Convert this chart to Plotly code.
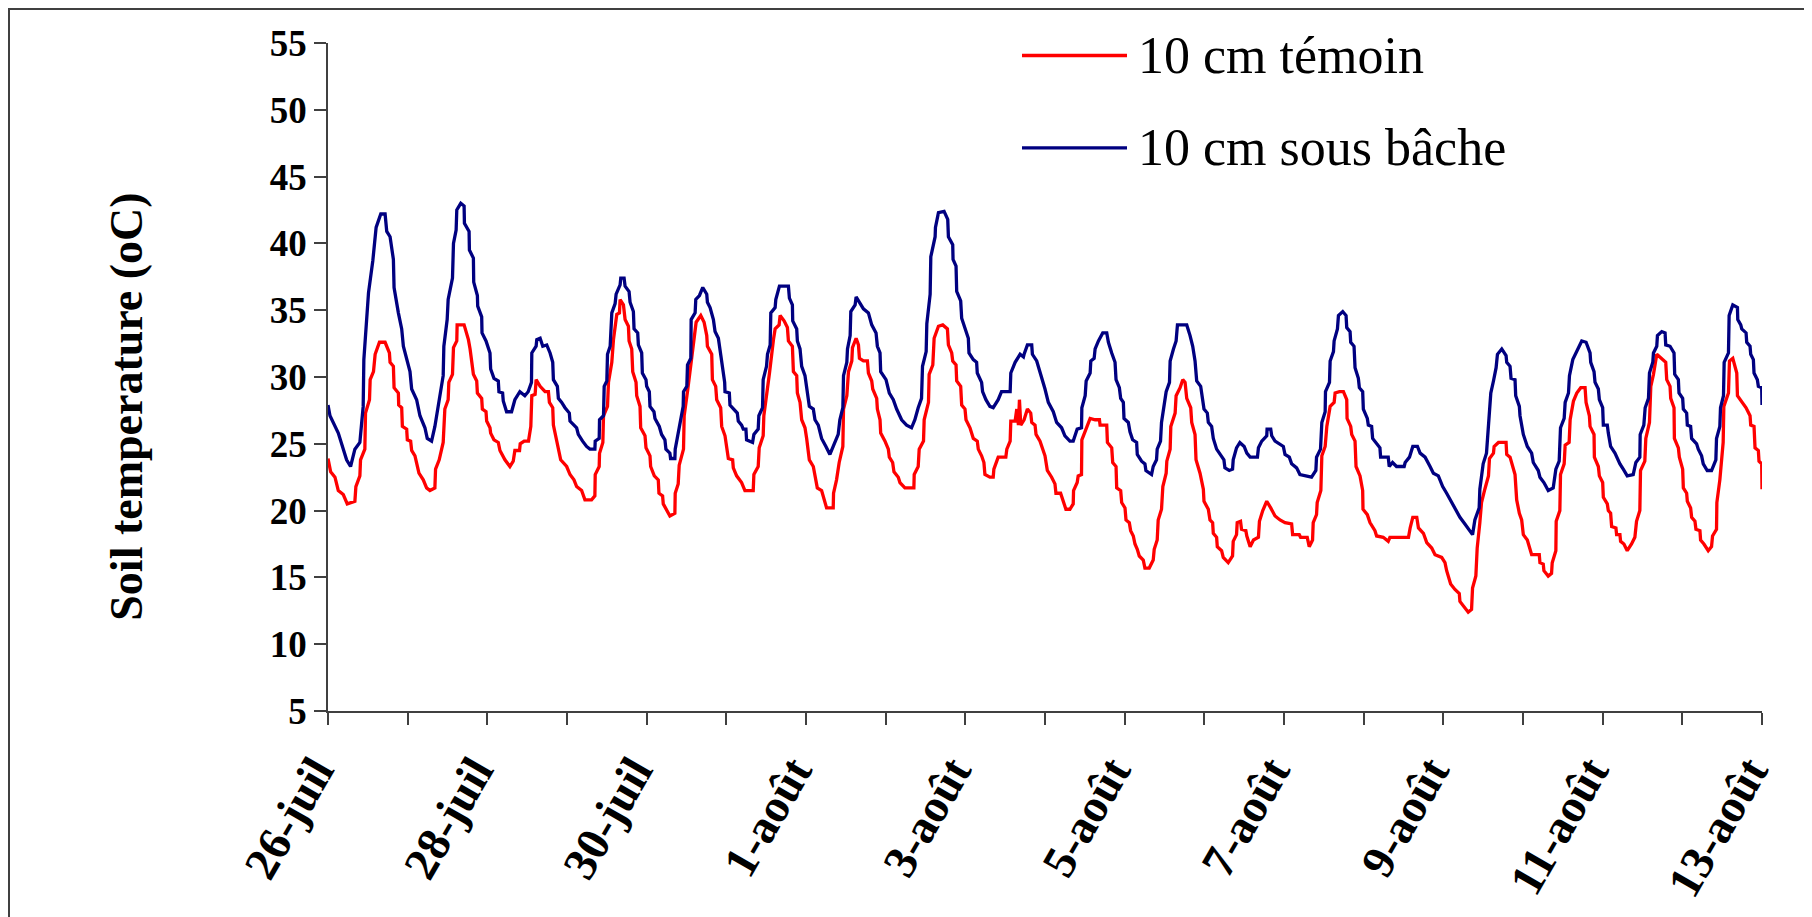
import plotly.graph_objects as go

# Hours since 26-juil 00:00 and soil temperature (°C)
blue_hours = [0, 0.6, 3.1, 5.6, 6.8, 8.1, 9.6, 10.6, 10.8, 12.2, 13.5, 14.5, 15.9, 17.2, 17.7, 18.7, 19.7, 19.9, 21.2, 22.2, 22.7, 24.7, 25.2, 26.7, 27.7, 29.2, 29.9, 31.2, 32.2, 33.5, 34.7, 34.9, 35.9, 36.2, 37.5, 37.8, 38.6, 38.8, 40.0, 41.0, 41.1, 42.5, 42.6, 43.8, 43.9, 45.0, 45.1, 46.3, 46.4, 47.6, 48.8, 49.0, 50.0, 51.3, 51.5, 52.6, 52.8, 53.8, 55.3, 56.3, 57.8, 59.3, 60.3, 61.3, 61.4, 62.7, 62.9, 63.9, 64.7, 65.9, 66.9, 67.7, 67.9, 69.1, 69.4,
              70.4, 71.4, 72.7, 72.9, 74.9, 75.4, 76.7, 77.9, 78.9, 80.4, 80.5, 81.7, 81.8, 83.0, 83.2, 84.0, 84.2, 85.0, 85.5, 86.5, 86.8, 88.0, 88.2, 89.2, 89.5, 90.7, 91.0, 92.0, 92.2, 93.3, 93.5, 94.5, 94.7, 95.8, 96.0, 96.8, 97.0, 98.2, 98.5, 99.8, 100.5, 101.5, 101.8, 103.0, 103.2, 104.5, 104.6, 105.8, 107.0, 107.1, 108.1, 108.3, 109.3, 109.4, 110.6, 110.8, 111.9, 112.9, 114.1, 114.3, 115.1, 116.1, 116.6, 117.6, 118.1, 118.6, 119.1, 119.5, 119.6, 120.9, 121.1, 122.1, 123.3, 123.6, 124.6, 125.1, 125.9, 126.1, 127.9, 128.3, 129.6, 129.8, 130.9, 131.1, 132.1, 132.4, 133.2, 133.4, 134.7, 134.9, 136.0, 138.7, 139.0, 139.9, 140.0, 141.2, 141.4, 142.2,
              142.7, 143.7, 144.2, 145.0, 146.2, 146.7, 147.7, 148.7, 150.0, 151.2, 152.2, 153.7, 154.2, 155.1, 155.3, 156.3, 156.5, 157.3, 157.5, 158.8, 159.1, 160.1, 161.3, 162.8, 163.8, 165.1, 165.5, 166.3, 166.5, 168.1, 169.1, 170.3, 171.3, 172.8, 174.3, 175.8, 176.8, 177.8, 178.8, 179.1, 180.2, 180.4, 181.4, 181.6, 182.9, 183.0, 183.9, 185.6, 186.7, 186.9, 188.2, 188.3, 189.2, 189.4, 190.6, 190.9, 191.9, 192.9, 193.1, 194.4, 195.4, 195.6, 196.9, 197.2, 198.2, 199.4, 200.4, 201.9, 202.9, 205.5, 205.7, 207.0, 208.5, 209.5, 209.7, 210.7, 212.0, 212.2, 213.5, 214.5,
              215.0, 216.0, 217.0, 218.5, 219.5, 221.0, 222.0, 223.5, 224.5, 225.7, 227.0, 227.1, 228.1, 228.4, 229.6, 229.8, 230.8, 231.1, 232.1, 233.4, 234.6, 235.1, 236.1, 237.1, 237.4, 238.4, 238.8, 239.6, 239.8, 241.1, 241.6, 242.4, 243.6, 243.8, 245.1, 246.1, 246.4, 248.1, 248.6, 249.6, 249.8, 250.8, 251.1, 252.1, 252.5, 253.5, 253.7, 254.7, 255.5, 255.9, 258.7, 259.7, 260.5, 261.2, 261.7, 262.9, 263.5, 263.9, 264.9, 265.2, 266.2, 266.7, 267.7, 268.9, 269.9, 270.2, 271.5, 272.5, 272.7, 273.7, 274.7, 276.0, 276.8, 277.8, 280.0, 280.3, 281.3, 282.8, 282.9, 284.0, 284.3, 285.3, 286.6,
              287.8, 288.3, 289.6, 290.3, 291.8, 292.8, 296.3, 297.6, 297.8, 299.0, 299.4, 300.4, 300.5, 301.7, 301.9, 302.9, 303.1, 304.1, 304.4, 305.7, 306.7, 306.9, 307.9, 308.1, 309.1, 309.4, 310.4, 310.7, 311.7, 311.9, 313.1, 313.4, 314.4, 314.7, 316.9, 317.1, 319.4, 319.7, 320.7, 321.9, 324.2, 324.5, 325.8, 326.8, 328.2, 329.0, 330.5, 332.0, 333.0, 334.5, 335.8, 337.0, 338.5, 339.8, 341.0, 342.5, 344.0, 344.8, 345.5, 346.8, 347.0, 348.0, 349.0, 349.6, 350.3, 351.1, 351.9, 352.3, 353.6, 354.9, 355.1, 356.1, 356.4, 357.6, 357.8, 358.9, 359.1,
              360.1, 361.3, 362.6, 363.1, 364.6, 365.1, 366.3, 367.6, 369.1, 369.9, 370.9, 371.3, 372.4, 372.7, 373.7, 374.0, 375.0, 376.0, 377.2, 377.7, 379.0, 380.2, 380.4, 381.4, 381.7, 382.7, 383.0, 384.0, 384.2, 385.4, 385.7, 386.4, 387.7, 388.2, 389.2, 390.2, 391.4, 393.2, 394.0, 395.2, 395.3, 396.4, 396.8, 397.8, 398.1, 399.1, 399.3, 400.3, 400.5, 401.8, 402.8, 403.0, 404.3, 405.5, 405.7, 406.8, 407.0, 408.1, 408.3, 409.3, 409.5, 410.5, 410.8, 412.3, 412.8, 413.8, 414.3, 415.5, 416.8, 418.1, 418.3, 419.3, 419.5, 420.4, 420.6, 421.9, 422.1, 423.2, 424.6, 424.7, 425.6, 425.9, 427.2, 427.4, 428.4, 428.6, 429.4, 429.6, 430.6, 430.9, 431.9, 432.0]
blue_vals = [27.9, 27.1, 25.8, 23.8, 23.3, 24.6, 25.1, 27.8, 31.3, 36.3, 38.7, 41.2, 42.2, 42.2, 40.9, 40.5, 38.8, 36.7, 34.8, 33.6, 32.3, 30.4, 29.1, 28.3, 27.1, 26.2, 25.4, 25.2, 26.3, 28.3, 30.1, 32.3, 34.3, 35.8, 37.4, 40.0, 41.0, 42.5, 43.0, 42.8, 41.5, 40.9, 39.5, 38.9, 37.1, 36.1, 35.3, 34.5, 33.3, 32.7, 31.8, 30.6, 29.9, 29.7, 28.9, 28.8, 28.2, 27.4, 27.4, 28.3, 28.9, 28.6, 28.9, 29.6, 31.8, 32.3, 32.8, 32.9, 32.3, 32.4, 31.8, 31.1, 29.8, 29.3, 28.4,
             28.1, 27.7, 27.3, 26.7, 26.2, 25.7, 25.2, 24.8, 24.6, 24.6, 25.2, 25.4, 26.8, 27.1, 29.3, 29.7, 31.7, 32.3, 34.8, 35.5, 36.2, 36.9, 37.4, 37.4, 36.8, 36.4, 35.6, 34.9, 33.6, 33.3, 32.4, 31.8, 30.3, 29.8, 29.3, 28.9, 27.8, 27.4, 26.9, 26.3, 25.7, 25.3, 24.6, 24.3, 23.9, 23.9, 24.6, 26.1, 27.8, 28.9, 29.3, 30.9, 31.4, 34.3, 34.8, 35.8, 36.1, 36.7, 36.2, 35.6, 35.2, 34.3, 33.4, 32.9, 32.1, 31.1, 30.1, 29.6, 28.9, 28.8, 27.9, 27.6, 27.3, 26.7, 26.4, 26.1, 26.1, 25.3, 25.1, 25.7, 26.1, 27.1, 27.7, 29.8, 30.8, 31.7, 32.4, 34.8, 35.2, 35.8, 36.8, 36.8, 35.9, 35.4, 34.2, 33.6, 32.7, 32.1,
             30.8, 30.1, 29.1, 27.8, 27.6, 26.8, 26.4, 25.4, 24.8, 24.2, 24.8, 25.7, 26.8, 27.7, 30.1, 31.1, 32.1, 33.1, 34.9, 35.4, 36.0, 35.6, 35.1, 34.8, 33.9, 33.3, 32.3, 31.8, 30.4, 29.8, 28.8, 28.3, 27.6, 26.8, 26.4, 26.2, 26.8, 27.7, 28.4, 30.8, 31.9, 34.0, 36.2, 39.0, 40.5, 41.2, 42.3, 42.4, 41.8, 40.5, 39.9, 38.8, 38.3, 36.4, 35.7, 34.4, 33.6, 32.9, 31.8, 31.3, 31.1, 30.3, 29.6, 28.9, 28.3, 27.8, 27.7, 28.3, 28.9, 28.9, 30.3, 31.1, 31.7, 31.5, 31.7, 32.4, 32.4, 31.7, 31.2, 30.4,
             29.9, 29.1, 28.1, 27.4, 26.6, 26.2, 25.6, 25.2, 25.2, 26.1, 26.2, 27.7, 28.6, 29.7, 30.3, 31.2, 31.4, 32.1, 32.7, 33.3, 33.3, 32.6, 31.8, 31.1, 29.8, 29.2, 28.4, 28.1, 26.9, 26.6, 25.9, 25.3, 25.1, 24.2, 23.7, 23.5, 23.0, 22.7, 23.3, 23.8, 24.6, 25.2, 26.6, 28.1, 28.9, 29.6, 31.2, 32.1, 32.7, 33.9, 33.9, 33.1, 32.3, 31.2, 29.7, 29.3, 28.3, 27.6, 27.3, 26.6, 26.3, 25.4, 24.6, 24.2, 23.8, 23.2, 23.0, 23.1, 23.8, 24.7, 25.1, 24.8, 24.3, 24.0, 24.0, 24.7, 25.2, 25.6, 26.1, 26.1, 25.6, 25.2, 25.0,
             24.8, 24.2, 24.0, 23.5, 23.2, 22.7, 22.5, 23.0, 24.0, 24.6, 26.6, 27.4, 28.9, 29.6, 31.2, 31.9, 32.7, 33.6, 34.6, 34.9, 34.6, 33.7, 33.4, 32.6, 32.3, 30.7, 29.9, 29.2, 28.9, 27.6, 26.9, 26.4, 26.3, 25.4, 24.7, 24.0, 24.0, 23.3, 23.6, 23.3, 23.3, 23.6, 24.0, 24.8, 24.8, 24.3, 24.0, 23.3, 22.8, 22.6, 21.8, 21.3, 20.6, 20.1, 19.5, 19.0, 18.5, 18.2, 19.3, 20.2, 21.6, 23.5, 24.3, 26.3, 28.8, 29.7, 30.7, 31.7, 32.1, 31.6, 31.1, 30.8, 29.9, 29.8, 28.6, 27.8, 27.1,
             25.7, 24.8, 24.3, 23.6, 23.0, 22.5, 22.1, 21.5, 21.7, 23.1, 23.7, 26.2, 26.9, 28.1, 28.8, 30.1, 31.3, 31.8, 32.4, 32.7, 32.6, 31.8, 31.1, 30.4, 29.6, 29.1, 28.3, 27.7, 26.4, 26.4, 25.8, 24.8, 24.3, 24.0, 23.5, 23.1, 22.6, 22.7, 23.6, 24.0, 25.7, 26.4, 27.7, 28.4, 30.3, 31.1, 31.8, 32.3, 33.1, 33.4, 33.3, 32.4, 32.3, 31.8, 30.2, 29.8, 28.8, 28.4, 27.6, 27.3, 26.4, 26.3, 25.4, 25.0, 24.6, 24.1, 23.5, 23.0, 23.0, 23.8, 25.4, 26.3, 27.7, 28.6, 31.1, 31.8, 34.6, 35.4, 35.2, 34.3, 33.9, 33.6, 33.3, 32.6, 32.3, 31.7, 31.3, 30.3, 29.8, 29.3, 29.2, 27.9]

red_hours = [0, 0.8, 2.1, 3.1, 4.6, 5.8, 8.1, 8.4, 9.6, 9.8, 11.1, 11.3, 12.5, 12.7, 13.7, 14.2, 15.5, 17.2, 18.5, 18.7, 19.7, 19.9, 21.2, 21.3, 22.2, 22.4, 23.7, 23.9, 24.9, 25.2, 26.2, 27.4, 28.7, 29.7, 30.7, 32.2, 32.4, 33.5, 34.7, 35.2, 36.2, 36.4, 37.5, 37.8, 38.8, 38.9, 41.0, 42.3, 42.8, 43.8, 44.8, 45.0, 46.3, 46.5, 47.6, 47.8, 48.8, 49.0, 50.0, 51.3, 51.8, 53.3, 54.8, 55.8, 56.3, 57.7, 57.9, 59.1, 60.4, 61.1, 61.4, 62.4, 62.7, 63.9, 65.4, 66.4, 66.7, 67.7, 67.9, 69.1,
             70.1, 71.9, 72.9, 74.1, 74.9, 76.4, 77.4, 79.4, 80.4, 80.5, 81.7, 81.8, 82.8, 83.0, 84.2, 84.5, 85.5, 86.0, 87.0, 87.8, 88.0, 89.0, 89.5, 90.5, 90.7, 91.5, 91.8, 92.8, 93.0, 94.0, 94.2, 95.5, 95.8, 97.0, 97.2, 98.3, 99.5, 99.7, 100.8, 101.0, 102.0, 103.0, 104.5, 104.6, 105.5, 105.8, 107.1, 107.3, 108.4, 109.3, 109.6, 110.6, 110.9, 112.3, 113.3, 114.1, 114.3, 115.6, 115.8, 116.8, 117.1, 118.3, 118.6, 119.6, 120.1, 120.6, 121.9, 122.1, 123.1, 124.6, 125.6, 128.1, 128.3, 129.6, 129.9, 131.1, 131.3, 132.7, 133.0, 134.2, 134.7, 135.9, 136.2, 137.4, 138.4, 138.7, 139.9, 140.2, 141.2, 141.4, 142.2,
             142.7, 143.7, 144.2, 145.0, 146.2, 146.7, 147.4, 148.7, 149.2, 150.2, 152.2, 152.3, 153.2, 154.0, 155.1, 155.3, 156.3, 156.8, 157.8, 158.0, 159.1, 159.8, 160.1, 161.3, 162.5, 162.8, 163.8, 164.1, 165.3, 165.5, 166.3, 166.5, 167.8, 168.8, 169.1, 170.1, 170.5, 171.8, 172.3, 173.8, 176.5, 176.6, 177.8, 178.1, 179.4, 179.6, 180.9, 181.1, 182.2, 182.6, 183.9, 185.2, 186.6, 186.9, 187.9, 188.2, 189.2, 189.4, 190.6, 190.9, 191.9, 192.2, 193.4, 194.4, 195.6, 195.9, 196.9, 197.6, 197.9, 199.4, 200.4, 200.6, 201.9, 204.2, 204.5, 205.5, 205.7, 207.0, 207.5, 208.0, 208.3, 208.7, 209.7, 210.7, 211.7, 212.0, 213.0, 213.3, 214.5,
             215.0, 216.0, 216.7, 218.0, 219.0, 219.3, 220.7, 221.7, 222.3, 223.5, 224.5, 224.6, 225.7, 226.0, 227.0, 227.1, 228.6, 229.6, 231.1, 232.4, 232.6, 234.6, 234.8, 236.1, 236.4, 237.4, 237.6, 238.8, 239.1, 240.1, 240.4, 241.4, 241.8, 242.6, 243.1, 243.8, 244.4, 245.6, 246.1, 247.4, 248.6, 248.9, 249.8, 250.1, 251.1, 251.5, 252.5, 252.7, 253.7, 253.9, 255.2, 255.5, 256.7, 257.5, 258.2, 258.7, 259.9, 260.2, 261.2, 261.5, 262.7, 263.7, 263.9, 265.2, 265.7, 266.5, 266.7, 267.7, 267.9, 269.2, 269.7, 271.2, 272.5, 272.7, 273.7, 273.9, 274.9, 275.2, 276.5, 276.8, 277.8, 278.8, 280.3, 280.6, 281.6, 282.8, 284.0, 285.3, 286.8,
             288.3, 290.3, 290.6, 292.6, 293.0, 295.0, 295.6, 296.6, 296.8, 297.8, 298.0, 299.1, 299.4, 300.4, 300.9, 301.9, 303.1, 303.4, 304.7, 305.9, 306.9, 307.0, 308.1, 308.4, 309.4, 309.7, 310.9, 311.7, 311.8, 313.1, 313.9, 315.4, 315.9, 317.9, 319.4, 319.9, 325.5, 326.0, 326.8, 328.0, 328.5, 330.0, 331.0, 332.5, 333.5, 335.5, 336.5, 337.0, 338.2, 339.5, 340.8, 341.0, 342.2, 343.5, 344.5, 344.8, 345.8, 346.2, 347.0, 347.5, 348.5, 349.6, 349.9, 351.1, 351.3, 352.6, 354.9, 355.1, 356.1, 357.6, 358.1, 358.9, 359.6,
             360.1, 361.3, 362.1, 362.6, 364.9, 365.1, 366.1, 366.3, 367.6, 368.6, 368.8, 369.9, 370.0, 371.1, 371.3, 372.4, 372.7, 373.9, 374.2, 375.2, 376.2, 377.4, 378.7, 379.0, 380.0, 380.2, 381.4, 381.5, 382.7, 383.0, 384.0, 384.2, 385.4, 385.7, 386.4, 386.7, 388.0, 388.2, 389.2, 389.4, 390.4, 391.4, 392.7, 393.7, 394.2, 395.2, 395.4, 396.7, 397.0, 398.1, 398.5, 399.3, 400.3, 401.8, 403.0, 403.3, 404.3, 404.5, 405.5, 405.6, 406.8, 407.1, 408.1, 408.3, 409.3, 409.5, 410.5, 410.8, 411.8, 412.1, 413.3, 413.5, 414.5, 415.8, 416.8, 417.1, 418.3, 418.4, 419.3, 420.3, 420.5, 421.9, 422.2, 423.2, 424.4, 424.6, 425.9, 427.2, 428.4, 428.6, 429.6, 429.9, 430.9, 431.1, 431.9, 432.0]
red_vals = [23.9, 22.9, 22.5, 21.5, 21.2, 20.5, 20.7, 21.8, 22.6, 23.8, 24.6, 27.3, 28.3, 29.8, 30.4, 31.7, 32.6, 32.6, 31.8, 31.1, 30.8, 29.2, 28.8, 27.9, 27.7, 26.3, 26.1, 25.3, 25.2, 24.5, 24.1, 22.8, 22.3, 21.7, 21.5, 21.7, 23.1, 23.8, 25.1, 27.6, 28.3, 29.6, 30.2, 32.2, 32.7, 33.9, 33.9, 32.8, 32.1, 30.2, 29.7, 28.8, 28.4, 27.6, 27.4, 26.7, 26.2, 25.8, 25.3, 25.1, 24.5, 23.8, 23.3, 23.7, 24.5, 24.5, 25.0, 25.2, 25.2, 26.3, 28.6, 28.7, 29.8, 29.3, 28.9, 28.9, 28.1, 27.7, 26.4, 25.1,
            23.8, 23.3, 22.7, 22.3, 21.8, 21.5, 20.8, 20.8, 21.1, 22.7, 23.3, 24.3, 25.1, 27.1, 27.8, 29.6, 31.1, 32.8, 34.7, 34.8, 35.8, 35.4, 34.3, 33.8, 32.7, 32.1, 30.4, 29.6, 28.6, 27.8, 26.2, 25.6, 24.7, 24.1, 23.3, 22.6, 22.3, 21.3, 21.1, 20.5, 20.1, 19.6, 19.8, 21.3, 22.0, 23.4, 24.6, 27.1, 29.1, 30.8, 31.8, 33.3, 34.1, 34.6, 34.1, 33.1, 32.3, 31.7, 29.8, 29.3, 28.3, 27.7, 26.3, 25.6, 24.8, 23.9, 23.8, 23.2, 22.6, 22.1, 21.5, 21.5, 22.7, 23.3, 24.7, 25.6, 27.1, 29.6, 30.3, 32.8, 33.6, 33.9, 34.6, 34.2, 33.7, 32.7, 32.3, 30.4, 30.1, 28.8, 28.1,
            26.8, 26.2, 25.4, 23.8, 23.3, 22.7, 21.7, 21.5, 21.1, 20.2, 20.2, 21.3, 22.3, 23.6, 24.8, 27.6, 28.6, 30.4, 31.2, 32.2, 32.9, 32.4, 31.4, 31.2, 31.2, 30.3, 29.7, 29.1, 28.4, 27.6, 26.8, 25.8, 25.2, 24.6, 24.0, 23.6, 22.9, 22.5, 22.1, 21.7, 21.7, 22.7, 23.3, 24.6, 25.2, 26.8, 28.1, 30.2, 30.9, 32.9, 33.8, 33.9, 33.6, 32.4, 31.8, 31.2, 30.9, 29.7, 29.3, 27.9, 27.6, 26.8, 26.2, 25.4, 25.2, 24.6, 24.1, 23.6, 22.7, 22.5, 22.5, 23.1, 24.0, 24.0, 24.6, 25.2, 26.7, 26.7, 27.6, 26.4, 28.3, 26.4, 26.8, 27.6, 27.3, 26.6, 26.4, 25.7, 25.2,
            24.8, 24.1, 23.0, 22.5, 22.0, 21.3, 21.3, 20.6, 20.1, 20.1, 20.5, 21.5, 22.1, 22.6, 22.7, 25.3, 26.2, 26.9, 26.8, 26.8, 26.4, 26.4, 25.1, 24.7, 23.6, 23.3, 21.7, 21.5, 20.6, 20.2, 19.3, 19.1, 18.5, 18.1, 17.5, 17.1, 16.6, 16.3, 15.7, 15.7, 16.3, 17.1, 17.8, 19.3, 20.1, 21.8, 22.8, 23.7, 24.6, 26.3, 27.3, 28.6, 29.2, 29.8, 29.6, 28.4, 27.7, 26.6, 25.7, 23.8, 22.8, 21.6, 20.7, 20.1, 19.3, 19.1, 18.3, 18.0, 17.3, 17.0, 16.5, 16.1, 16.6, 17.7, 18.2, 19.1, 19.2, 18.6, 18.5, 18.1, 17.3, 17.8, 18.0, 19.2, 20.0, 20.7, 20.2, 19.6, 19.3,
            19.1, 19.0, 18.2, 18.2, 18.0, 18.0, 17.3, 17.8, 19.1, 19.7, 20.6, 21.5, 24.1, 24.8, 26.3, 27.8, 28.1, 28.8, 28.9, 28.9, 28.3, 26.9, 26.3, 25.7, 25.2, 23.3, 22.6, 21.5, 20.1, 19.7, 19.1, 18.5, 18.1, 18.0, 17.7, 18.0, 18.0, 18.7, 19.5, 19.5, 18.7, 18.3, 17.6, 17.2, 16.7, 16.5, 16.1, 15.5, 14.5, 14.1, 13.8, 13.2, 12.8, 12.4, 12.6, 14.2, 15.1, 17.2, 19.1, 20.6, 21.6, 22.6, 23.9, 24.3, 24.8, 25.1, 25.1, 24.2, 24.0, 22.7, 20.8, 19.8, 19.3,
            18.2, 17.8, 17.2, 16.7, 16.7, 16.1, 16.0, 15.5, 15.1, 15.3, 16.1, 17.0, 19.2, 20.0, 22.7, 23.5, 24.9, 25.1, 26.8, 28.2, 28.8, 29.2, 29.2, 28.1, 27.1, 26.3, 25.7, 24.0, 23.3, 22.6, 22.1, 21.0, 20.5, 20.0, 19.8, 18.8, 18.7, 18.2, 18.2, 17.7, 17.5, 17.0, 17.5, 18.0, 19.2, 20.0, 23.0, 23.7, 25.4, 26.6, 29.3, 30.2, 31.7, 31.4, 31.1, 29.8, 29.3, 28.4, 27.7, 25.4, 24.7, 24.0, 23.1, 21.7, 21.3, 20.7, 20.2, 19.5, 19.2, 18.6, 18.5, 17.8, 17.5, 17.0, 17.3, 18.1, 18.6, 20.6, 22.3, 25.1, 27.8, 28.8, 31.2, 31.4, 30.3, 28.6, 28.1, 27.7, 27.1, 26.4, 26.3, 24.7, 24.5, 23.7, 23.5, 21.6]

day_labels = ["26-juil", "27-juil", "28-juil", "29-juil", "30-juil", "31-juil",
              "1-août", "2-août", "3-août", "4-août", "5-août", "6-août",
              "7-août", "8-août", "9-août", "10-août", "11-août", "12-août", "13-août"]
y_ticks = [5, 10, 15, 20, 25, 30, 35, 40, 45, 50, 55]

series_names = ["10 cm témoin", "10 cm sous bâche"]
series_colors = ["#FF0000", "#000080"]

FONT = "Liberation Serif, Times New Roman, serif"

fig = go.Figure()
fig.add_trace(go.Scatter(x=red_hours, y=red_vals, mode="lines", name=series_names[0],
                         line=dict(color=series_colors[0], width=3.3), showlegend=False))
fig.add_trace(go.Scatter(x=blue_hours, y=blue_vals, mode="lines", name=series_names[1],
                         line=dict(color=series_colors[1], width=3.3), showlegend=False))

tickvals = [24 * i for i in range(len(day_labels))]
ticktext = [lab if i % 2 == 0 else "" for i, lab in enumerate(day_labels)]

# page body has an 8px margin: figure is offset by 8px on screen
OFF = 8
W, H = 1804, 909
L, T = 320, 35
pw, ph = 1434, 668.5
R = W - L - pw
B = H - T - ph

def px(xs):
    return (xs - OFF - L) / pw

def py(ys):
    return (H - B - (ys - OFF)) / ph

fig.update_layout(
    width=W, height=H, autosize=False,
    margin=dict(l=L, r=R, t=T, b=B, autoexpand=False),
    paper_bgcolor="white", plot_bgcolor="white",
    font=dict(family=FONT, color="black"),
    xaxis=dict(range=[0, 432], tickvals=tickvals, ticktext=ticktext,
               tickangle=-60, ticks="outside", ticklen=12, tickwidth=1.5,
               tickcolor="#404040", showline=True, linecolor="#404040", linewidth=1.5,
               showgrid=False, zeroline=False, ticklabelshift=-13,
               tickfont=dict(family=FONT, size=47, color="black", weight="bold")),
    yaxis=dict(range=[5, 55], tickvals=y_ticks, ticks="outside", ticklen=12,
               tickwidth=1.5, tickcolor="#404040", showline=True, linecolor="#404040",
               linewidth=1.5, showgrid=False, zeroline=False,
               tickfont=dict(family=FONT, size=37, color="black", weight="bold")),
)

# y-axis title
fig.add_annotation(text="<b>Soil temperature (oC)</b>", xref="paper", yref="paper",
                   x=px(127), y=py(407), xanchor="center", yanchor="middle",
                   textangle=-90, showarrow=False,
                   font=dict(family=FONT, size=46, color="black"))

# custom legend
leg_y = [55.5, 148]
for name, color, yy in zip(series_names, series_colors, leg_y):
    fig.add_shape(type="line", xref="paper", yref="paper",
                  x0=px(1022), x1=px(1127), y0=py(yy), y1=py(yy),
                  line=dict(color=color, width=3.3))
    fig.add_annotation(text=name, xref="paper", yref="paper",
                       x=px(1136), y=py(yy), xanchor="left", yanchor="middle",
                       showarrow=False, font=dict(family=FONT, size=52, color="black"))

# outer chart border
fig.add_shape(type="rect", xref="paper", yref="paper",
              x0=px(9), x1=px(1805), y0=py(930), y1=py(9),
              line=dict(color="#404040", width=2), fillcolor="rgba(0,0,0,0)", layer="below")

fig.write_html("out.html")
